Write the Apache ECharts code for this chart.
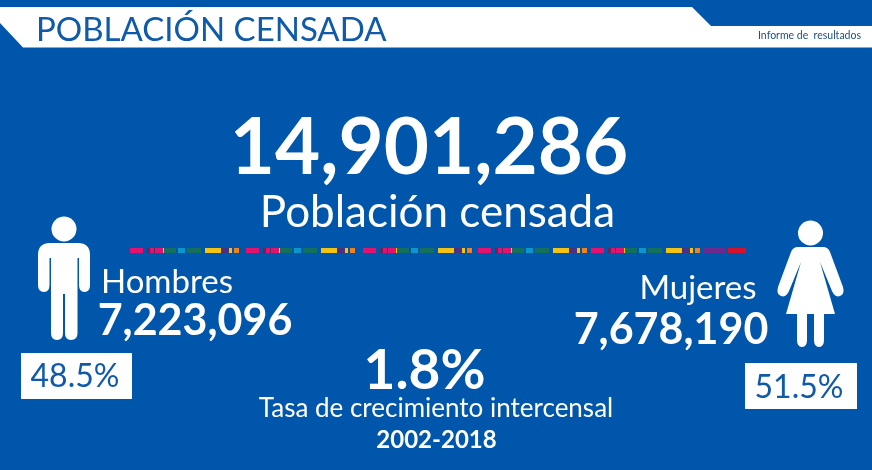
<!DOCTYPE html>
<html>
<head>
<meta charset="utf-8">
<style>html,body{margin:0;padding:0;background:#0056aa}#chart{width:872px;height:470px}</style>
<script src="https://cdn.jsdelivr.net/npm/echarts@6/dist/echarts.min.js"></script>
</head>
<body>
<div id="chart"></div>
<script>
// Values
const title = 'POBLACIÓN CENSADA';
const source = 'Informe de  resultados';
const totalValue = '14,901,286';
const totalLabel = 'Población censada';
const groupNames = ['Hombres', 'Mujeres'];
const groupValues = ['7,223,096', '7,678,190'];
const groupShares = ['48.5%', '51.5%'];
const rateValue = '1.8%';
const rateLabel = 'Tasa de crecimiento intercensal';
const ratePeriod = '2002-2018';

// Coloured ribbon: lengths and colour keys, left to right
const ribbonLengths = [
  13,4,3,4,1,8,1,12,2,7,2,14,4,16,8,3,2,5,7,
  13,4,3,4,1,8,1,12,2,7,2,14,4,16,8,3,2,5,8,
  13,4,3,4,1,8,1,12,2,7,2,14,4,16,8,3,2,5,6,
  13,4,3,4,1,8,1,12,2,7,2,14,4,16,8,3,2,5,4,
  13,4,3,4,1,8,1,12,2,7,2,14,4,16,8,3,2,5,3,22,3,18
];
const ribbonKeys = [
  'P','N','D','P','D','P','Y','G','N','B','N','G','N','Y','V','Y','N','O','N',
  'P','N','D','P','D','P','Y','G','N','B','N','G','N','Y','V','Y','N','O','N',
  'P','N','D','P','D','P','Y','G','N','B','N','G','N','Y','V','Y','N','O','N',
  'P','N','D','P','D','P','Y','G','N','B','N','G','N','Y','V','Y','N','O','N',
  'P','N','D','P','D','P','Y','G','N','B','N','G','N','Y','V','Y','N','O','N','M','N','R'
];
const ribbonColors = {
  P: '#e2136e', D: '#5c2a5e', Y: '#f2c313', G: '#13705c', B: '#0b97c9',
  V: '#4a3182', O: '#ef8122', M: '#6b2a8c', R: '#d3122c', N: 'transparent'
};

const BLUE = '#0056aa';
const INK = '#0f5ba9';
const FONT = 'Lato, "Open Sans", sans-serif';

const text = (x, y, str, size, opts = {}) => ({
  type: 'text',
  x, y,
  silent: true,
  style: Object.assign({
    text: str,
    fontFamily: FONT,
    fontSize: size,
    fontWeight: 400,
    fill: '#fff',
    align: 'center',
    verticalAlign: 'middle'
  }, opts)
});

const white = { fill: '#fff' };

// graphic has no plain path type, so the two figures are registered as shapes
echarts.graphic.registerShape('manBody', echarts.graphic.extendPath(
  'M50 243 L78 243 Q90 243 90 255 L90 285 Q90 292 84.5 292 Q79 292 79 285 L79 258 L77.5 258 L77.5 333 Q77.5 340 71 340 Q65 340 65 333 L65 294 L63 294 L63 333 Q63 340 57 340 Q51 340 51 333 L51 258 L49.5 258 L49.5 285 Q49.5 292 44 292 Q38 292 38 285 L38 255 Q38 243 50 243 Z'
));
echarts.graphic.registerShape('womanBody', echarts.graphic.extendPath(
  'M798 247 L823 247 Q828 247 830 252 L843 287 Q845 294 840 296 Q835 298 832 291 L820 262 L835 314 L824 314 L824 340 Q824 347 819 347 Q814 347 814 340 L814 314 L807 314 L807 340 Q807 347 802 347 Q797 347 797 340 L797 314 L786 314 L801 262 L789 291 Q786 298 781 296 Q776 294 778 287 L791 252 Q793 247 798 247 Z'
));

const chart = echarts.init(document.getElementById('chart'));
chart.setOption({
  backgroundColor: BLUE,
  animation: false,
  grid: { left: 130, top: 248, width: 618, height: 5 },
  xAxis: { type: 'value', min: 0, max: 618, show: false },
  yAxis: { type: 'category', data: ['ribbon'], show: false },
  series: ribbonLengths.map((len, i) => ({
    type: 'bar',
    stack: 'ribbon',
    barWidth: '100%',
    silent: true,
    itemStyle: { color: ribbonColors[ribbonKeys[i]] },
    data: [len]
  })),
  graphic: [
    { type: 'polygon', shape: { points: [[0,7],[692,7],[711,26],[872,26],[872,47.5],[23,47.5],[0,23]] }, style: white },
    text(36, 30, title, 33, { align: 'left', fill: INK }),
    text(758, 36, source, 10.5, { align: 'left', fill: '#1d4f86' }),

    text(429, 149, totalValue, 78, { fontWeight: 700 }),
    text(437.5, 213, totalLabel, 44),

    { type: 'circle', shape: { cx: 64, cy: 229, r: 12.5 }, style: white },
    { type: 'manBody', style: white },
    text(167, 282, groupNames[0], 33),
    text(195, 321, groupValues[0], 43, { fontWeight: 700 }),
    { type: 'rect', shape: { x: 21, y: 353, width: 111, height: 46 }, style: white },
    text(75, 377, groupShares[0], 32, { fill: INK }),

    { type: 'circle', shape: { cx: 810.5, cy: 233, r: 12.5 }, style: white },
    { type: 'womanBody', style: white },
    text(698, 288, groupNames[1], 33),
    text(671, 330, groupValues[1], 43, { fontWeight: 700 }),
    { type: 'rect', shape: { x: 745, y: 363, width: 112, height: 46 }, style: white },
    text(799, 388, groupShares[1], 32, { fill: INK }),

    text(424.5, 371, rateValue, 55, { fontWeight: 700 }),
    text(436, 409, rateLabel, 26),
    text(436.5, 440, ratePeriod, 24, { fontWeight: 700 })
  ]
});
</script>
</body>
</html>
